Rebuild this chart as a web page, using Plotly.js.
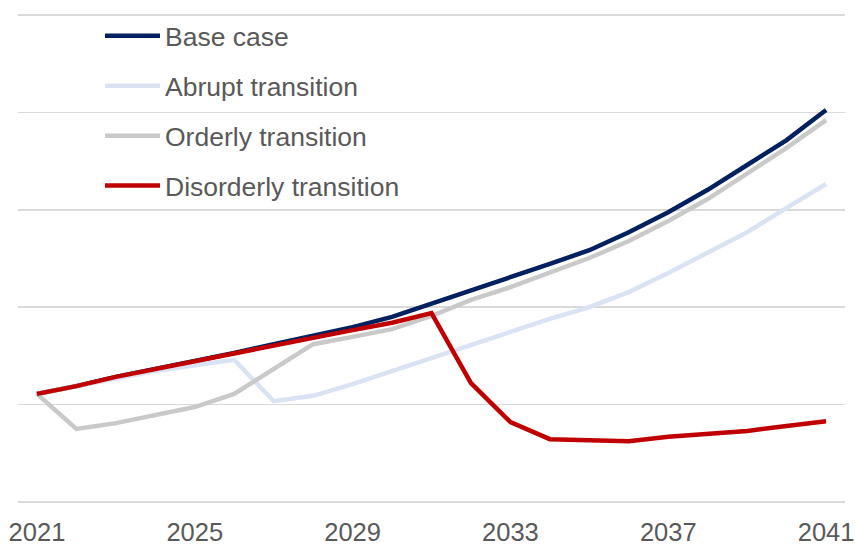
<!DOCTYPE html>
<html>
<head>
<meta charset="utf-8">
<script src="https://cdn.plot.ly/plotly-3.0.1.min.js"></script>
<style>html,body{margin:0;padding:0;background:#fff;}#chart{width:855px;height:547px;}</style>
</head>
<body>
<div id="chart"></div>
<script>
const years = [2021,2022,2023,2024,2025,2026,2027,2028,2029,2030,2031,2032,2033,2034,2035,2036,2037,2038,2039,2040,2041];
const tickYears = [2021,2025,2029,2033,2037,2041];
const baseCase = [22.2,23.8,25.7,27.3,29.0,30.6,32.4,34.1,35.9,38.0,40.7,43.3,46.0,48.9,51.7,55.4,59.5,64.1,69.2,74.3,80.5];
const abrupt = [22.2,23.8,25.5,26.9,28.1,29.2,20.7,21.8,24.2,26.9,29.6,32.2,34.9,37.6,40.0,43.1,47.0,51.1,55.4,60.4,65.3];
const orderly = [22.2,15.0,16.2,17.9,19.5,22.2,27.3,32.4,33.9,35.5,38.2,41.5,44.1,47.0,50.1,53.6,57.7,62.2,67.4,72.7,78.4];
const disorderly = [22.2,23.8,25.7,27.3,29.0,30.6,32.2,33.9,35.3,36.8,38.8,24.4,16.4,12.9,12.7,12.5,13.4,14.0,14.6,15.6,16.6];
const names = ['Base case','Abrupt transition','Orderly transition','Disorderly transition'];
const colors = ['#002060','#dae3f3','#c9c9c9','#c00000'];
const series = [baseCase, abrupt, orderly, disorderly];

const traces = series.map((s,i)=>({
  x: years, y: s, name: names[i], type: 'scatter', mode: 'lines',
  legendgroup: 'g'+i,
  line: {color: colors[i], width: 4.5}
}));

const layout = {
  width: 855, height: 547,
  margin: {l: 18, r: 10, t: 13, b: 43},
  paper_bgcolor: '#ffffff', plot_bgcolor: '#ffffff',
  font: {family: 'Liberation Sans, Arial, sans-serif', color: '#595959', size: 24},
  xaxis: {
    range: [2020.52, 2041.48], tickvals: tickYears, ticktext: tickYears.map(String),
    showgrid: false, zeroline: false, showline: false, ticks: '',
    ticklabelstandoff: 10,
    tickfont: {size: 25.5, color: '#595959'}
  },
  yaxis: {
    range: [-0.41, 100.41], dtick: 20, tick0: 0, showticklabels: false,
    showgrid: true, gridcolor: '#d9d9d9', gridwidth: 1.5, zeroline: false, showline: false, ticks: ''
  },
  showlegend: true,
  legend: {
    xref: 'paper', yref: 'paper',
    x: (100-18)/827, y: (504-12)/491, xanchor: 'left', yanchor: 'top',
    bgcolor: 'rgba(0,0,0,0)', borderwidth: 0,
    font: {size: 26.5, color: '#595959'},
    traceorder: 'grouped', tracegroupgap: 12.5, itemwidth: 55
  }
};
Plotly.newPlot('chart', traces, layout, {staticPlot: true});
</script>
</body>
</html>
